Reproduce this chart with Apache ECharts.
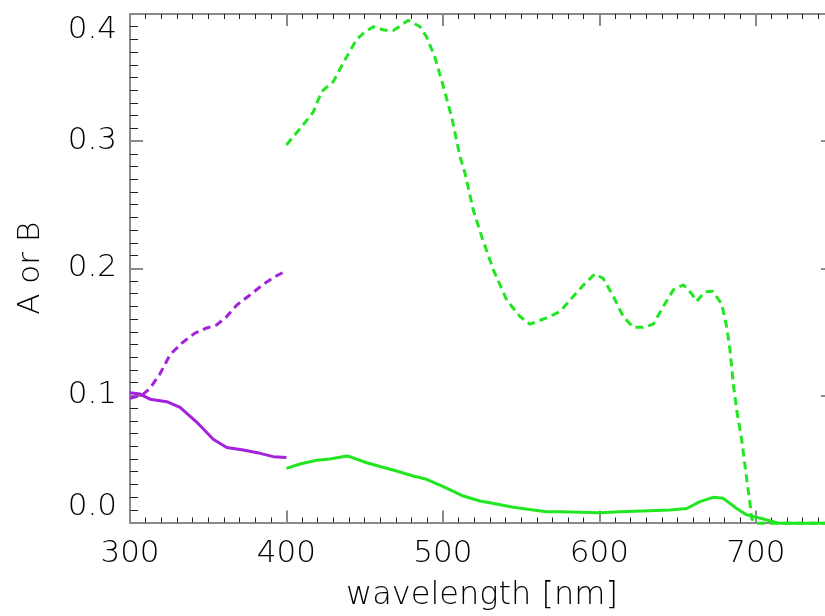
<!DOCTYPE html>
<html>
<head>
<meta charset="utf-8">
<script src="https://cdn.jsdelivr.net/npm/echarts@6/dist/echarts.min.js"></script>
<style>
html,body{margin:0;padding:0;background:#fff;}
#chart{width:825px;height:616px;}
</style>
</head>
<body>
<div id="chart"></div>
<script>
// ---- data ----
const purpleWlA = [300, 306.4, 312.8, 323.5, 332, 342.6, 353.2, 361.8, 372.4, 383.1, 391.6, 400];
const purpleA   = [0.102, 0.101, 0.097, 0.095, 0.0906, 0.079, 0.0655, 0.059, 0.057, 0.0544, 0.0518, 0.0512];

const purpleWlB = [300, 307.5, 312.8, 319.2, 325.6, 333, 341.5, 349, 355.4, 361.8, 368.2, 376.7, 385.2, 392.7, 400];
const purpleB   = [0.0977, 0.100, 0.1056, 0.117, 0.132, 0.141, 0.149, 0.153, 0.1554, 0.162, 0.171, 0.179, 0.1874, 0.1934, 0.198];

const greenWlA = [400, 408.7, 419.3, 427.8, 438.5, 441.7, 451.3, 459.8, 470.4, 481, 489.6, 502.4, 513, 523.7, 534.3, 545, 557.8, 566.3, 575, 600.4, 613, 632, 645.2, 655.8, 664.3, 672.8, 679.2, 687.8, 694.2, 704.8, 714.5, 750];
const greenA   = [0.0426, 0.046, 0.049, 0.050, 0.0523, 0.0513, 0.047, 0.044, 0.0405, 0.0366, 0.034, 0.027, 0.0208, 0.0169, 0.0146, 0.012, 0.0098, 0.0085, 0.0085, 0.0077, 0.0085, 0.0093, 0.0098, 0.011, 0.0164, 0.0198, 0.019, 0.011, 0.006, 0.0028, -0.0006, -0.0006];

const greenWlB = [400, 410.8, 417.2, 422.5, 430, 437.4, 444.9, 450.2, 455.5, 461.9, 468.3, 477.9, 485.4, 489.6, 494.9, 500.3, 505.6, 510.9, 514.1, 519.4, 524.8, 532.2, 540.8, 549.3, 555.7, 566.3, 575, 583.4, 590.8, 597.2, 602.5, 608.9, 615.3, 621.7, 628.1, 634.5, 640.9, 647.3, 653.7, 659, 662.2, 667.5, 672.4, 678.2, 681.4, 683.5, 685.6, 687.8, 691, 693.7, 696.3, 697.4, 700, 750];
const greenB   = [0.297, 0.313, 0.323, 0.339, 0.347, 0.364, 0.380, 0.386, 0.390, 0.3875, 0.387, 0.395, 0.390, 0.382, 0.366, 0.343, 0.319, 0.288, 0.275, 0.246, 0.225, 0.199, 0.175, 0.162, 0.156, 0.161, 0.166, 0.178, 0.188, 0.1955, 0.192, 0.178, 0.162, 0.1535, 0.1535, 0.156, 0.170, 0.183, 0.187, 0.180, 0.174, 0.1815, 0.182, 0.172, 0.154, 0.136, 0.1095, 0.0885, 0.065, 0.039, 0.015, 0.003, -0.0005, -0.0005];

const xTicks = [300, 400, 500, 600, 700];
const yTicks = [0.0, 0.1, 0.2, 0.3, 0.4];

const GREEN = '#22e622';
const PURPLE = '#a422dc';
const FONT = "'DejaVu Sans', sans-serif";
const AXIS_GRAY = '#8a8a8a';

function pairs(xs, ys) { return xs.map((x, i) => [x, ys[i]]); }

const chart = echarts.init(document.getElementById('chart'), null, {renderer: 'canvas'});

function xAxisCfg(pos, showLabel) {
  return {
    type: 'value', position: pos, min: xTicks[0], max: 750, interval: 100,
    axisLine: {show: true, onZero: false, lineStyle: {color: AXIS_GRAY, width: 2}},
    axisTick: {show: true, inside: true, length: 12, lineStyle: {color: AXIS_GRAY, width: 2}},
    minorTick: {show: true, splitNumber: 10, length: 5, lineStyle: {color: '#222', width: 1}},
    splitLine: {show: false},
    axisLabel: {show: showLabel, color: '#000', fontFamily: FONT, fontSize: 31, fontWeight: 'lighter', margin: 16,
      showMaxLabel: false,
      formatter: v => (xTicks.indexOf(v) >= 0 ? String(v) : '')},
    name: showLabel ? 'wavelength [nm]' : '',
    nameLocation: 'middle', nameGap: 57,
    nameTextStyle: {color: '#000', fontFamily: FONT, fontSize: 32, fontWeight: 'lighter'}
  };
}
function yAxisCfg(pos, showLabel) {
  return {
    type: 'value', position: pos, min: yTicks[0], max: yTicks[yTicks.length - 1], interval: 0.1,
    axisLine: {show: true, onZero: false, lineStyle: {color: AXIS_GRAY, width: 2}},
    axisTick: {show: true, inside: true, length: 13, lineStyle: {color: AXIS_GRAY, width: 2}},
    minorTick: {show: true, splitNumber: 10, length: 8, lineStyle: {color: '#222', width: 1}},
    splitLine: {show: false},
    axisLabel: {show: showLabel, color: '#000', fontFamily: FONT, fontSize: 31, fontWeight: 'lighter', margin: 13,
      formatter: v => v.toFixed(1),
      verticalAlignMinLabel: 'bottom', verticalAlignMaxLabel: 'top'},
    name: showLabel ? 'A or B' : '',
    nameLocation: 'middle', nameGap: 84, nameRotate: 90,
    nameTextStyle: {color: '#000', fontFamily: FONT, fontSize: 31, fontWeight: 'lighter'}
  };
}

function line(xs, ys, color, dashed) {
  return {
    type: 'line', xAxisIndex: 0, yAxisIndex: 0, data: pairs(xs, ys),
    showSymbol: false, smooth: false, clip: false, animation: false,
    lineStyle: {color: color, width: 3, type: dashed ? [8, 5] : 'solid'}
  };
}

chart.setOption({
  animation: false,
  backgroundColor: '#fff',
  grid: {left: 130, top: 14, width: 704, height: 508.5, containLabel: false, outerBoundsMode: 'none'},
  xAxis: [xAxisCfg('bottom', true), xAxisCfg('top', false)],
  yAxis: [yAxisCfg('left', true), yAxisCfg('right', false)],
  series: [
    line(purpleWlB, purpleB, PURPLE, true),
    line(purpleWlA, purpleA, PURPLE, false),
    line(greenWlB, greenB, GREEN, true),
    line(greenWlA, greenA, GREEN, false)
  ]
});
</script>
</body>
</html>
